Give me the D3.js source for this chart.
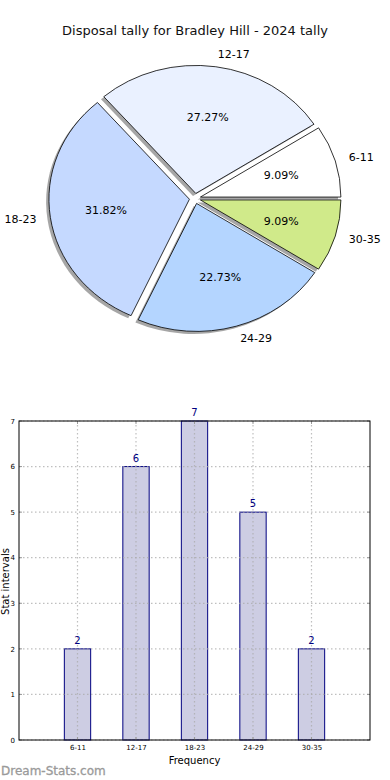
<!DOCTYPE html>
<html><head><meta charset="utf-8">
<script src="https://cdn.jsdelivr.net/npm/d3@7"></script>
<style>
body{margin:0;background:#fff;}
svg{display:block;font-family:"DejaVu Sans",sans-serif;}
</style></head>
<body>
<script>
const title = "Disposal tally for Bradley Hill - 2024 tally";
const categories = ["6-11","12-17","18-23","24-29","30-35"];
const counts = [2,6,7,5,2];
const sliceColors = ["#ffffff","#eaf1ff","#c5d9ff","#b4d5ff","#d0ea8a"];
const yTicks = [0,1,2,3,4,5,6,7];
const xLabel = "Frequency";
const yLabel = "Stat intervals";
const watermark = "Dream-Stats.com";

const W = 390, H = 780;
const svg = d3.select("body").append("svg").attr("width", W).attr("height", H);

svg.append("text").attr("x", 195).attr("y", 35).attr("text-anchor","middle")
  .attr("font-size", 13).attr("fill","#111").text(title);

// ---- Pie (matplotlib style: start east, counter-clockwise, elliptical) ----
const cx = 195, cy = 198.5, Rx = 140.5, Ry = 128, explode = 0.04;
const total = d3.sum(counts);
const pie = d3.pie().sort(null).value(d => d).startAngle(Math.PI/2).endAngle(Math.PI/2 - 2*Math.PI);
const arcsData = pie(counts);
const unit = 100;
const arc = d3.arc().innerRadius(0).outerRadius(unit);
const pieG = svg.append("g");

function offset(a){
  const mid = (a.startAngle + a.endAngle) / 2;
  const ux = Math.sin(mid), uy = -Math.cos(mid);
  return {ux, uy, ox: cx + explode * Rx * ux, oy: cy + explode * Ry * uy};
}
arcsData.forEach((a) => {
  const o = offset(a);
  pieG.append("path").attr("d", arc(a))
    .attr("transform", `translate(${o.ox - 0.02*Rx},${o.oy + 0.02*Ry}) scale(${Rx/unit},${Ry/unit})`)
    .attr("fill", "#000").attr("fill-opacity", 0.35).attr("stroke","none");
});
arcsData.forEach((a, i) => {
  const o = offset(a);
  pieG.append("path").attr("d", arc(a))
    .attr("transform", `translate(${o.ox},${o.oy}) scale(${Rx/unit},${Ry/unit})`)
    .attr("fill", sliceColors[i]).attr("stroke", "#000").attr("stroke-width", 0.8)
    .attr("vector-effect","non-scaling-stroke").attr("stroke-linejoin","round");
});
arcsData.forEach((a, i) => {
  const o = offset(a);
  const pct = (counts[i] / total * 100).toFixed(2) + "%";
  pieG.append("text").attr("x", o.ox + 0.6*Rx*o.ux).attr("y", o.oy + 0.6*Ry*o.uy)
    .attr("text-anchor","middle").attr("dominant-baseline","central")
    .attr("font-size", 11).attr("fill","#000").text(pct);
  pieG.append("text").attr("x", o.ox + 1.1*Rx*o.ux).attr("y", o.oy + 1.1*Ry*o.uy)
    .attr("text-anchor", o.ux < 0 ? "end" : "start").attr("dominant-baseline","central")
    .attr("font-size", 11).attr("fill","#000").text(categories[i]);
});

// ---- Bar chart ----
const L = 19, R = 370, T = 421, B = 740;
const x = d3.scaleLinear().domain([0, categories.length + 1]).range([L, R]);
const y = d3.scaleLinear().domain([0, 7]).range([B, T]);
const bw = 0.45;
const bar = svg.append("g");

// bars
bar.selectAll(".b").data(counts).join("rect")
  .attr("x", (d,i) => x(i+1 - bw/2)).attr("width", x(bw) - x(0))
  .attr("y", d => y(d)).attr("height", d => B - y(d))
  .attr("fill", "#cdcde3").attr("stroke", "#000080").attr("stroke-width", 1);

// grid (drawn above bars, like matplotlib)
bar.selectAll(".gy").data(yTicks).join("line")
  .attr("x1", L).attr("x2", R).attr("y1", d => y(d)).attr("y2", d => y(d))
  .attr("stroke", "#aaa").attr("stroke-opacity", 0.75).attr("stroke-width", 1.2).attr("stroke-dasharray","1.5,2.5");
bar.selectAll(".gx").data(categories).join("line")
  .attr("x1", (d,i) => x(i+1)).attr("x2", (d,i) => x(i+1)).attr("y1", T).attr("y2", B)
  .attr("stroke", "#aaa").attr("stroke-opacity", 0.75).attr("stroke-width", 1.2).attr("stroke-dasharray","1.5,2.5");

// value labels
bar.selectAll(".v").data(counts).join("text")
  .attr("x", (d,i) => x(i+1)).attr("y", d => y(d) - 5)
  .attr("text-anchor","middle").attr("font-size", 10).attr("fill", "#000080").text(d => d);

// axes
const yAxis = d3.axisLeft(y).tickValues(yTicks).tickFormat(d3.format("d")).tickSize(0).tickPadding(4);
const gy = bar.append("g").attr("transform", `translate(${L},0)`).call(yAxis);
gy.select(".domain").remove();
gy.selectAll("text").attr("font-size", 7).attr("fill","#000").attr("font-family","DejaVu Sans");
const xAxis = d3.axisBottom(x).tickValues(categories.map((c,i)=>i+1)).tickFormat((d)=>categories[d-1]).tickSize(0).tickPadding(5);
const gx = bar.append("g").attr("transform", `translate(0,${B})`).call(xAxis);
gx.select(".domain").remove();
gx.selectAll("text").attr("font-size", 7).attr("fill","#000").attr("font-family","DejaVu Sans");

// inner ticks
yTicks.forEach(t => {
  bar.append("line").attr("x1", L).attr("x2", L+3).attr("y1", y(t)).attr("y2", y(t)).attr("stroke","#999");
  bar.append("line").attr("x1", R-3).attr("x2", R).attr("y1", y(t)).attr("y2", y(t)).attr("stroke","#999");
});
categories.forEach((c,i) => {
  bar.append("line").attr("x1", x(i+1)).attr("x2", x(i+1)).attr("y1", T).attr("y2", T+3).attr("stroke","#999");
  bar.append("line").attr("x1", x(i+1)).attr("x2", x(i+1)).attr("y1", B-3).attr("y2", B).attr("stroke","#999");
});

// frame
bar.append("rect").attr("x", L).attr("y", T).attr("width", R-L).attr("height", B-T)
  .attr("fill","none").attr("stroke","#000").attr("stroke-width", 1);

// axis labels
bar.append("text").attr("x", (L+R)/2).attr("y", 764).attr("text-anchor","middle")
  .attr("font-size", 10).attr("fill","#000").text(xLabel);
bar.append("text").attr("transform", `translate(9,${(T+B)/2 + 1}) rotate(-90)`)
  .attr("text-anchor","middle").attr("font-size", 10).attr("fill","#000").text(yLabel);

// watermark
svg.append("text").attr("x", 1).attr("y", 775).attr("font-size", 12)
  .attr("fill", "#9a9a9a").attr("stroke","#9a9a9a").attr("stroke-width",0.3).text(watermark);
</script>
</body></html>
